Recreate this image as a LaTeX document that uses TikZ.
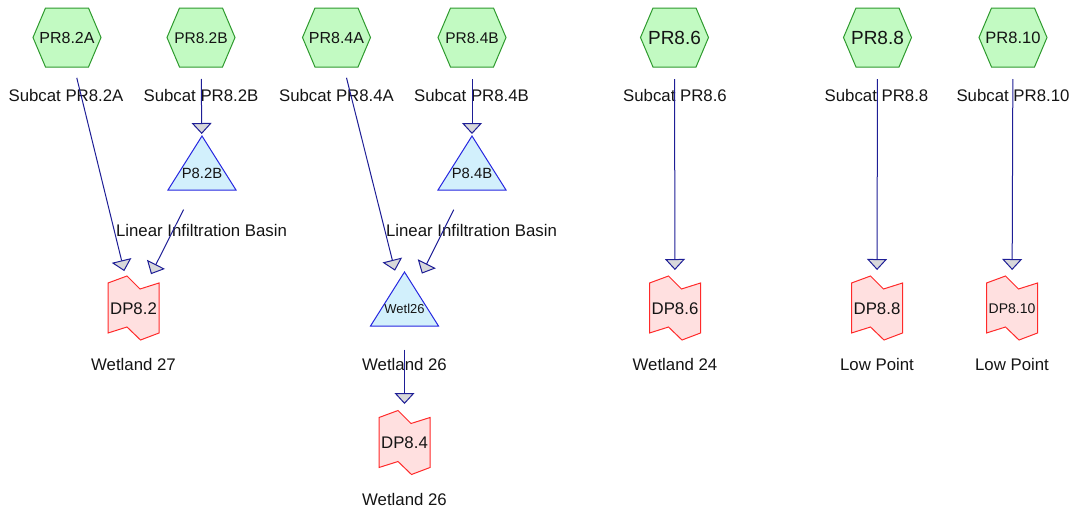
\documentclass[tikz,border=0pt]{standalone}
\usepackage{fontspec}
\setmainfont{Liberation Sans}
\usetikzlibrary{arrows.meta}
\definecolor{hexfill}{HTML}{C2FAC2}
\definecolor{hexdraw}{HTML}{2E9A2E}
\definecolor{trifill}{HTML}{D2F0FC}
\definecolor{tridraw}{HTML}{2626E0}
\definecolor{dpfill}{HTML}{FFE0E0}
\definecolor{dpdraw}{HTML}{FF2A2A}
\definecolor{linkc}{HTML}{1E1E96}
\definecolor{headfill}{HTML}{D8D8DA}
\definecolor{txt}{HTML}{141414}
\tikzset{
  hexpic/.pic={\draw[hexdraw,fill=hexfill,line width=1pt] (-34,0)--(-21.5,-29.5)--(21.5,-29.5)--(34,0)--(21.5,29.5)--(-21.5,29.5)--cycle;},
  tripic/.pic={\draw[tridraw,fill=trifill,line width=1pt] (0,-36)--(34,18)--(-34,18)--cycle;},
  dppic/.pic={\draw[dpdraw,fill=dpfill,line width=1pt] (-25.5,-25)--(-6.5,-32)--(6.5,-19)--(25.5,-25)--(25.5,25)--(7,32)--(-6.5,19)--(-25.5,25)--cycle;},
  lbl/.style={text=txt,inner sep=0pt,anchor=base,font=\fontsize{16.8}{18}\selectfont},
  intext/.style={text=txt,inner sep=0pt},
  link/.style={draw=linkc,line width=1pt,-{Triangle[width=20pt,length=11pt,fill=headfill]},shorten <=41pt,shorten >=39pt}
}
\begin{document}
\begin{tikzpicture}[x=1pt,y=-1pt]
\useasboundingbox (0,0) rectangle (1072,512);
% hexagons
\foreach \x in {67,201,336.5,472,674.5,877.5,1013} {\pic at (\x,37.5) {hexpic};}
% triangles
\pic at (202,172) {tripic};
\pic at (472,172) {tripic};
\pic at (404.5,308) {tripic};
% DP shapes
\pic at (133.5,308) {dppic};
\pic at (404.5,442.5) {dppic};
\pic at (675,308) {dppic};
\pic at (877,308) {dppic};
\pic at (1012,308) {dppic};
% node texts
\node[intext,font=\fontsize{16}{18}\selectfont] (pr82a) at (67,38) {PR8.2A};
\node[intext,font=\fontsize{15.5}{18}\selectfont] (pr82b) at (201,38) {PR8.2B};
\node[intext,font=\fontsize{16}{18}\selectfont] (pr84a) at (336.5,38) {PR8.4A};
\node[intext,font=\fontsize{15.5}{18}\selectfont] (pr84b) at (472,38) {PR8.4B};
\node[intext,font=\fontsize{19}{20}\selectfont] (pr86) at (674.5,38) {PR8.6};
\node[intext,font=\fontsize{19}{20}\selectfont] (pr88) at (877.5,38) {PR8.8};
\node[intext,font=\fontsize{16.5}{18}\selectfont] (pr810) at (1013,38) {PR8.10};
\node[intext,font=\fontsize{14.8}{16}\selectfont] (p82b) at (202,173) {P8.2B};
\node[intext,font=\fontsize{14.8}{16}\selectfont] (p84b) at (472,173) {P8.4B};
\node[intext,font=\fontsize{13}{15}\selectfont] (wetl26) at (404.5,308.5) {Wetl26};
\node[intext,font=\fontsize{16.8}{18}\selectfont] (dp82) at (133.5,309) {DP8.2};
\node[intext,font=\fontsize{16.8}{18}\selectfont] (dp84) at (404.5,443) {DP8.4};
\node[intext,font=\fontsize{16.8}{18}\selectfont] (dp86) at (675,309) {DP8.6};
\node[intext,font=\fontsize{16.8}{18}\selectfont] (dp88) at (877,309) {DP8.8};
\node[intext,font=\fontsize{14}{16}\selectfont] (dp810) at (1012,309) {DP8.10};
% labels
\node[lbl] (l1) at (66,101) {Subcat PR8.2A};
\node[lbl] (l2) at (201,101) {Subcat PR8.2B};
\node[lbl] (l3) at (336.5,101) {Subcat PR8.4A};
\node[lbl] (l4) at (471.5,101) {Subcat PR8.4B};
\node[lbl] (l5) at (675,101) {Subcat PR8.6};
\node[lbl] (l6) at (876.5,101) {Subcat PR8.8};
\node[lbl] (l7) at (1013,101) {Subcat PR8.10};
\node[lbl] (l8) at (201.5,236) {Linear Infiltration Basin};
\node[lbl] (l9) at (471.5,236) {Linear Infiltration Basin};
\node[lbl] (l10) at (133.5,370) {Wetland 27};
\node[lbl] (l11) at (404.5,370) {Wetland 26};
\node[lbl] (l12) at (404.5,505) {Wetland 26};
\node[lbl] (l13) at (675,370) {Wetland 24};
\node[lbl] (l14) at (877,370) {Low Point};
\node[lbl] (l15) at (1012,370) {Low Point};
% connectors
\draw[link] (pr82a.center) -- (dp82.center);
\draw[link] (pr82b.center) -- (p82b.center);
\draw[link] (p82b.center) -- (dp82.center);
\draw[link] (pr84a.center) -- (wetl26.center);
\draw[link] (pr84b.center) -- (p84b.center);
\draw[link] (p84b.center) -- (wetl26.center);
\draw[link] (wetl26.center) -- (dp84.center);
\draw[link] (pr86.center) -- (dp86.center);
\draw[link] (pr88.center) -- (dp88.center);
\draw[link] (pr810.center) -- (dp810.center);
\end{tikzpicture}
\end{document}
